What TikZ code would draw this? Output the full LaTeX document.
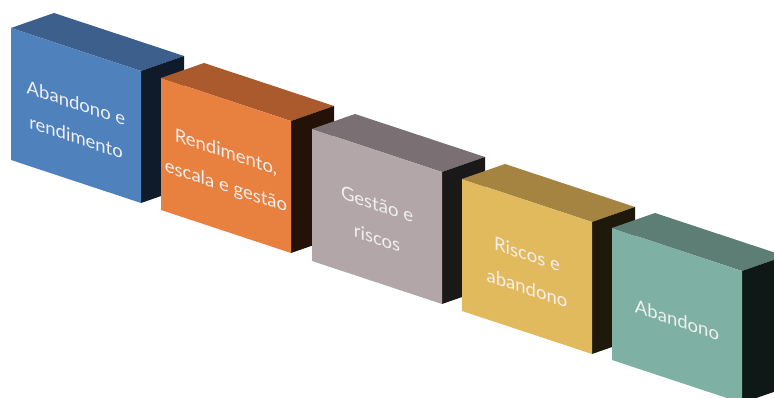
\documentclass[tikz,border=0pt]{standalone}
\usepackage{fontspec}
\setmainfont{Lato}
\definecolor{fa}{HTML}{4F81BD}\definecolor{ta}{HTML}{3C5F8C}\definecolor{sa}{HTML}{0F1B2A}
\definecolor{fb}{HTML}{E88040}\definecolor{tb}{HTML}{AA5A2D}\definecolor{sb}{HTML}{241208}
\definecolor{fc}{HTML}{B2A6A9}\definecolor{tc}{HTML}{7A7074}\definecolor{sc}{HTML}{1A1819}
\definecolor{fd}{HTML}{E2BA5E}\definecolor{td}{HTML}{A58441}\definecolor{sd}{HTML}{1F190C}
\definecolor{fe}{HTML}{7FB0A4}\definecolor{te}{HTML}{5C7E75}\definecolor{se}{HTML}{0F1816}
\definecolor{txtcol}{HTML}{F2F0EE}
\tikzset{boxtxt/.style={align=center,text=txtcol,font=\fontsize{18.5}{34}\selectfont,yslant=-0.333,inner sep=0pt}}
% #1,#2: top-left of front face; #3 front, #4 top, #5 side colour; #6 name; #7 text
\newcommand\boxcube[7]{%
  \fill[#4] (#1,#2) -- ++(130,43) -- ++(43,-15) -- ++(-130,-43) -- cycle;
  \fill[#5] (#1+130,#2+43) -- ++(43,-15) -- ++(0,132) -- ++(-43,15) -- cycle;
  \fill[#3] (#1,#2) -- ++(130,43) -- ++(0,132) -- ++(-130,-43) -- cycle;
  \node[boxtxt] (#6) at (#1+65,#2+92) {#7};
}
\begin{document}
\begin{tikzpicture}[x=1pt,y=-1pt]
\useasboundingbox (0,0) rectangle (774,398);
\clip (0,0) rectangle (774,398);
\boxcube{11}{28}{fa}{ta}{sa}{b1}{Abandono e\\rendimento}
\boxcube{161}{78}{fb}{tb}{sb}{b2}{Rendimento,\\escala e gestão}
\boxcube{312}{129}{fc}{tc}{sc}{b3}{Gestão e\\riscos}
\boxcube{462}{179}{fd}{td}{sd}{b4}{Riscos e\\abandono}
\boxcube{612}{228}{fe}{te}{se}{b5}{Abandono}
\end{tikzpicture}
\end{document}
